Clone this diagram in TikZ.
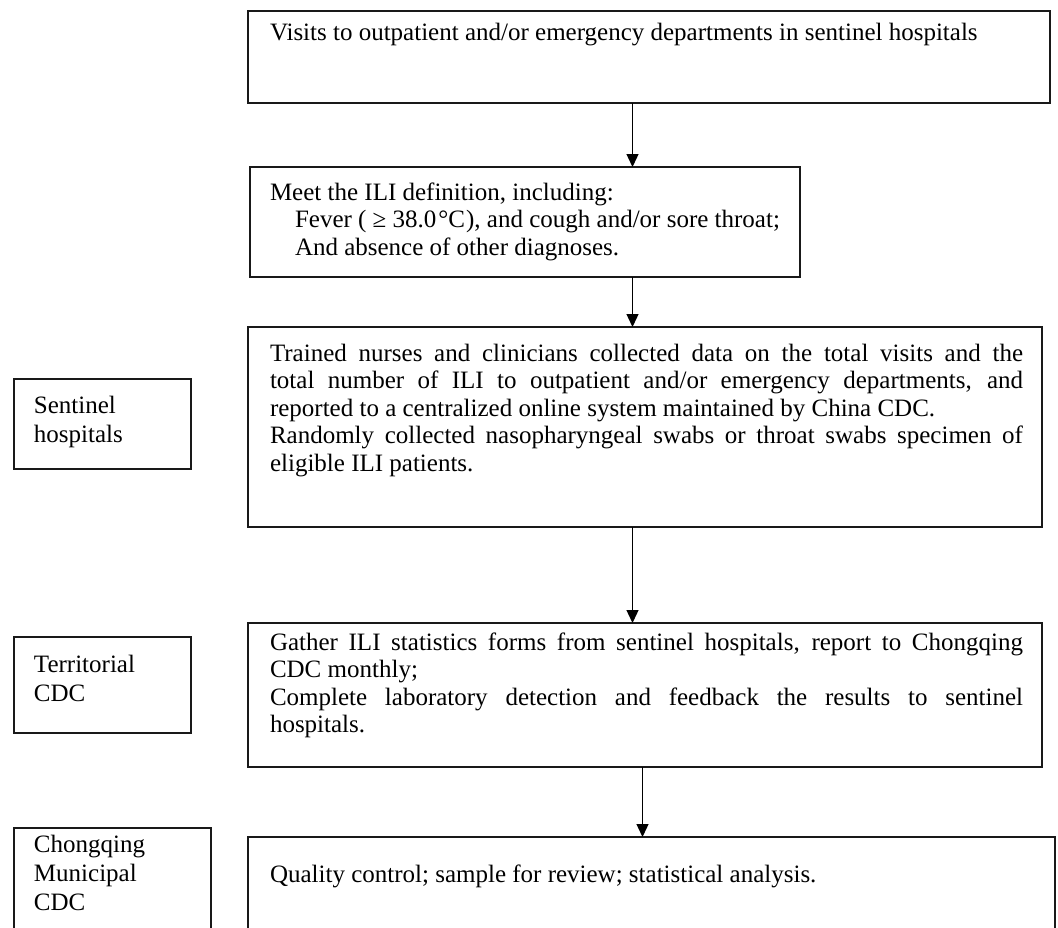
\documentclass[tikz,border=0pt]{standalone}
\usepackage{fontspec}
\setmainfont{Liberation Serif}
\usetikzlibrary{arrows.meta}
\newcommand{\fsz}{\fontsize{25}{27.5}\selectfont}
\newcommand{\fsl}{\fontsize{25}{29}\selectfont}
\newlength{\jw}\setlength{\jw}{753pt}
\newcommand{\jline}[1]{\makebox[\jw][s]{#1}}
\begin{document}
\begin{tikzpicture}[x=1pt,y=-1pt,
  frame/.style={draw=black!90, line width=1.6pt, inner sep=0pt, outer sep=0pt, rectangle},
  txt/.style={anchor=north west, inner sep=0pt, outer sep=0pt, align=left, font=\fsz},
  lbl/.style={anchor=north west, inner sep=0pt, outer sep=0pt, align=left, font=\fsl},
  arr/.style={line width=1.3pt, -{Triangle[length=13pt,width=12pt]}}]
\clip (0,0) rectangle (1058,927);
\fill[white] (0,0) rectangle (1058,927);
% frames
\node[frame, minimum width=802pt, minimum height=92pt] (top) at (649,57) {};
\node[frame, minimum width=550pt, minimum height=110pt] (def) at (525,222) {};
\node[frame, minimum width=794pt, minimum height=200pt] (col) at (645,427) {};
\node[frame, minimum width=794pt, minimum height=144pt] (gat) at (645,695) {};
\node[frame, minimum width=807pt, minimum height=123pt] (qc) at (651.5,898.5) {};
\node[frame, minimum width=177pt, minimum height=90pt] (sh) at (102.5,424) {};
\node[frame, minimum width=177pt, minimum height=96pt] (tc) at (102.5,685) {};
\node[frame, minimum width=197pt, minimum height=132pt] (cm) at (112.5,894) {};
% texts (strut height = 19.25pt / 20.3pt)
\node[txt] (toptxt) at (270,20.75) {\strut Visits to outpatient and/or emergency departments in sentinel hospitals};
\node[txt] (deftxt) at (270,180.75) {\strut Meet the ILI definition, including:\\
\hspace*{25pt}Fever ( ≥ 38.0\hspace{2pt}°C\hspace{1pt}), and cough and/or sore throat;\\
\hspace*{25pt}And absence of other diagnoses.};
\node[txt] (coltxt) at (270,341.75) {\strut\jline{Trained nurses and clinicians collected data on the total visits and the}\\
\jline{total number of ILI to outpatient and/or emergency departments, and}\\
reported to a centralized online system maintained by China CDC.\\
\jline{Randomly collected nasopharyngeal swabs or throat swabs specimen of}\\
eligible ILI patients.};
\node[txt] (gattxt) at (270,630.75) {\strut\jline{Gather ILI statistics forms from sentinel hospitals, report to Chongqing}\\
CDC monthly;\\
\jline{Complete laboratory detection and feedback the results to sentinel}\\
hospitals.};
\node[txt] (qctxt) at (270,862.75) {\strut Quality control; sample for review; statistical analysis.};
\node[lbl] (shtxt) at (34,392.7) {\strut Sentinel\\hospitals};
\node[lbl] (tctxt) at (34,651.7) {\strut Territorial\\CDC};
\node[lbl] (cmtxt) at (34,831.7) {\strut Chongqing\\Municipal\\CDC};
% arrows
\coordinate (ax) at (632.5,0);
\coordinate (bx) at (642.5,0);
\draw[arr] (top.south -| ax) -- (def.north -| ax);
\draw[arr] (def.south -| ax) -- (col.north -| ax);
\draw[arr] (col.south -| ax) -- (gat.north -| ax);
\draw[arr] (gat.south -| bx) -- (qc.north -| bx);
\end{tikzpicture}
\end{document}
